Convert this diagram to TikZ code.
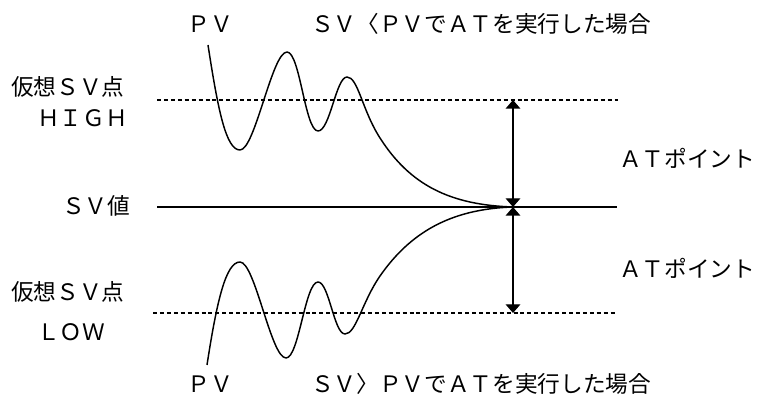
\documentclass[tikz,border=0pt]{standalone}
\usepackage{fontspec}
\newfontfamily\jp{Noto Sans CJK JP}
\usetikzlibrary{arrows.meta}
\tikzset{
  lbl/.style={font=\jp\fontsize{17pt}{20pt}\selectfont, inner sep=0pt, text=black},
  dashline/.style={line width=0.8pt, dash pattern=on 3pt off 2.2pt},
  svline/.style={line width=1.1pt},
  pvcurve/.style={line width=1.1pt, line join=round},
  atarrow/.style={line width=1pt, {Triangle[width=11pt,length=6.5pt]}-{Triangle[width=11pt,length=6.5pt]}}
}
\begin{document}
\begin{tikzpicture}[x=0.75pt,y=-0.75pt]
\useasboundingbox (0,0) rectangle (760,409);
% labels
\node[lbl] (pvtop) at (210,24) {ＰＶ};
\node[lbl, anchor=west] (ttop) at (311,24) {ＳＶ〈ＰＶでＡＴを実行した場合};
\node[lbl, anchor=west] (hv1) at (11,87) {仮想ＳＶ点};
\node[lbl, anchor=west] (hv2) at (37,118) {ＨＩＧＨ};
\node[lbl, anchor=west] (svv) at (62,206) {ＳＶ値};
\node[lbl, anchor=west] (lv1) at (11,292) {仮想ＳＶ点};
\node[lbl, anchor=west] (lv2) at (37,332) {ＬＯＷ};
\node[lbl] (pvbot) at (210,384) {ＰＶ};
\node[lbl, anchor=west] (tbot) at (311,384) {ＳＶ〉ＰＶでＡＴを実行した場合};
\node[lbl, anchor=west] (at1) at (619,158) {ＡＴポイント};
\node[lbl, anchor=west] (at2) at (619,268) {ＡＴポイント};
% line end points
\coordinate (hL) at (157,100); \coordinate (hR) at (618,100);
\coordinate (sL) at (157,207); \coordinate (sR) at (617,207);
\coordinate (lL) at (153,313); \coordinate (lR) at (615,313);
\coordinate (aH) at (513,100); \coordinate (aS) at (513,207); \coordinate (aL) at (513,313);
% lines
\draw[dashline] (hL) -- (hR);
\draw[svline] (sL) -- (sR);
\draw[dashline] (lL) -- (lR);
% arrows
\draw[atarrow] (aS) -- (aH);
\draw[atarrow] (aS) -- (aL);
% PV curves
\draw[pvcurve] (208,45) .. controls (218,110) and (226,150) .. (240,150)
  .. controls (255,150) and (272,52) .. (287,52)
  .. controls (300,52) and (305,131) .. (318,131)
  .. controls (330,131) and (336,77) .. (347,77)
  .. controls (358,77) and (362,110) .. (380,138)
  .. controls (410,185) and (450,205) .. (aS);
\draw[pvcurve] (207,365) .. controls (217,300) and (226,262) .. (240,262)
  .. controls (255,262) and (271,358) .. (286,358)
  .. controls (299,358) and (305,282) .. (318,282)
  .. controls (329,282) and (334,334) .. (345,334)
  .. controls (356,334) and (362,302) .. (380,276)
  .. controls (410,233) and (450,209) .. (aS);
\end{tikzpicture}
\end{document}
